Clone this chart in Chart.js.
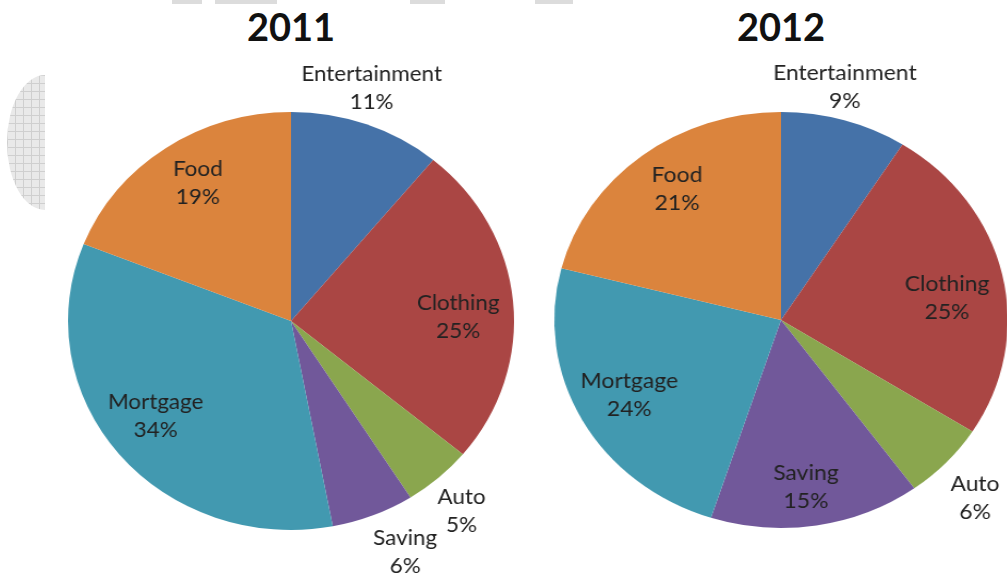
<!DOCTYPE html>
<html>
<head>
<meta charset="utf-8">
<script src="https://cdn.jsdelivr.net/npm/chart.js@4.4.0/dist/chart.umd.min.js"></script>
<style>
  html, body { margin: 0; padding: 0; background: #fff; overflow: hidden; }
  #page { position: relative; width: 1007px; height: 576px; overflow: hidden; font-family: Lato, "Open Sans", sans-serif; }
  .title { position: absolute; top: 7px; width: 200px; line-height: 38px; text-align: center; font-weight: bold; font-size: 38px; color: #111; }
  canvas { position: absolute; transform-origin: 50% 50%; }
  .mark { position: absolute; background: #dcdcdc; }
  #grid {
    position: absolute; left: 7px; top: 75px; width: 38px; height: 135px;
    border-radius: 100% 0 0 100% / 50% 0 0 50%;
    background-color: #e9e9e9;
    background-image: linear-gradient(#cfcfcf 1px, transparent 1px), linear-gradient(90deg, #cfcfcf 1px, transparent 1px);
    background-size: 8px 8px;
  }
</style>
</head>
<body>
<div id="page">
  <div id="grid"></div>
  <div class="mark" style="left:172px;top:0;width:30px;height:4px"></div>
  <div class="mark" style="left:215px;top:0;width:62px;height:4px"></div>
  <div class="mark" style="left:410px;top:0;width:35px;height:4px"></div>
  <div class="mark" style="left:535px;top:0;width:38px;height:4px"></div>
  <div class="title" id="title0" style="left:191px"></div>
  <div class="title" id="title1" style="left:681px"></div>
  <canvas id="pie2011" width="460" height="600" style="left:61px;top:21px;transform:scaleX(1.067)"></canvas>
  <canvas id="pie2012" width="460" height="600" style="left:551px;top:20px;transform:scaleX(1.09)"></canvas>
</div>
<script>
// ---------- Data ----------
const categories = ['Entertainment', 'Clothing', 'Auto', 'Saving', 'Mortgage', 'Food'];
const years = ['2011', '2012'];
const share2011 = [11, 25, 5, 6, 34, 19];
const share2012 = [9, 25, 6, 15, 24, 21];
const sliceColors = ['#4572A8', '#AA4644', '#8AA64E', '#71589A', '#4299B0', '#DB843D'];

// label placement per slice: [radius factor, angle nudge in degrees]
const place2011 = [[1.17, -1.8], [0.75, 3.9], [1.19, 1.4], [1.22, -3.2], [0.76, 2.6], [0.78, 1.8]];
const place2012 = [[1.155, -2.1], [0.74, 4.3], [1.21, 1.8], [0.81, 1.2], [0.76, 0.5], [0.78, 1.8]];

// ---------- Slice labels (name + percent) ----------
const sliceLabels = {
    id: 'sliceLabels',
    afterDatasetsDraw(chart, args, opts) {
        const ctx = chart.ctx;
        const meta = chart.getDatasetMeta(0);
        const values = chart.data.datasets[0].data;
        ctx.save();
        ctx.font = '21px Lato, "Open Sans", sans-serif';
        ctx.fillStyle = '#222';
        ctx.textAlign = 'center';
        ctx.textBaseline = 'middle';
        meta.data.forEach((arc, i) => {
            const p = arc.getProps(['x', 'y', 'startAngle', 'endAngle', 'outerRadius'], true);
            const [f, nudge] = opts.place[i];
            const a = (p.startAngle + p.endAngle) / 2 + nudge * Math.PI / 180;
            const r = p.outerRadius * f;
            const x = p.x + Math.cos(a) * r;
            const y = p.y + Math.sin(a) * r;
            ctx.fillText(chart.data.labels[i], x, y - 14);
            ctx.fillText(values[i] + '%', x, y + 14);
        });
        ctx.restore();
    }
};

function makePie(canvasId, values, radius, place) {
    return new Chart(document.getElementById(canvasId), {
        type: 'pie',
        data: {
            labels: categories,
            datasets: [{
                data: values,
                backgroundColor: sliceColors,
                borderWidth: 0,
                radius: radius
            }]
        },
        options: {
            responsive: false,
            animation: false,
            devicePixelRatio: 1,
            events: [],
            layout: { padding: 0 },
            plugins: {
                legend: { display: false },
                tooltip: { enabled: false },
                sliceLabels: { place: place }
            }
        },
        plugins: [sliceLabels]
    });
}

document.getElementById('title0').textContent = years[0];
document.getElementById('title1').textContent = years[1];

makePie('pie2011', share2011, 209, place2011);
makePie('pie2012', share2012, 208, place2012);
</script>
</body>
</html>
